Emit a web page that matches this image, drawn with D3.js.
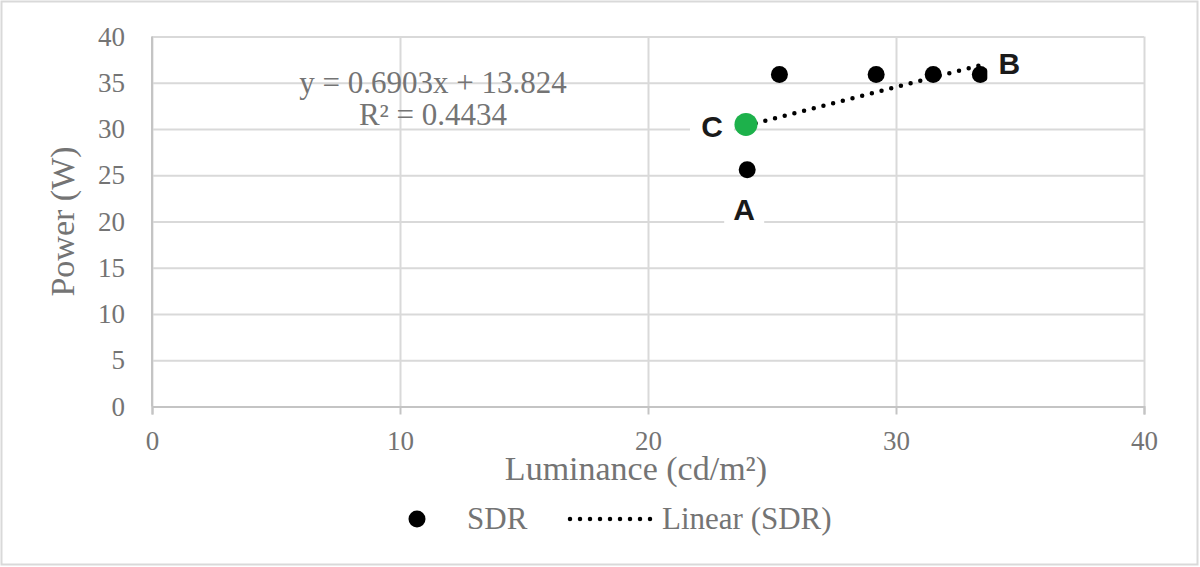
<!DOCTYPE html>
<html>
<head>
<meta charset="utf-8">
<script src="https://cdn.jsdelivr.net/npm/d3@7"></script>
<style>
  body { margin: 0; background: #fff; }
  text { font-family: "Liberation Serif", serif; fill: #747474; }
</style>
</head>
<body>
<svg id="chart" width="1200" height="567"></svg>
<script>
var luminance = [24.0, 25.3, 29.2, 31.5, 33.4, 23.95];
var power     = [25.6, 35.9, 35.9, 35.9, 35.9, 30.5];
var pointTags = ["A", "", "", "", "B", "C"];

var xTicks = [0, 10, 20, 30, 40];
var yTicks = [0, 5, 10, 15, 20, 25, 30, 35, 40];

// trendline as printed on the chart
var trendSlope = 0.6903;
var trendIntercept = 13.824;
var trendText = ["y = 0.6903x + 13.824", "R\u00b2 = 0.4434"];

function draw(){
    var svg = d3.select("#chart");

    // outer border
    svg.append("rect")
        .attr("x", 1.5).attr("y", 1.5)
        .attr("width", 1196).attr("height", 563)
        .attr("fill", "none").attr("stroke", "#d9d9d9").attr("stroke-width", 2);

    var left = 152, top = 36.5, width = 992, height = 370;
    var g = svg.append("g").attr("transform", "translate(" + left + "," + top + ")");

    var scaleX = d3.scaleLinear().domain([0, 40]).range([0, width]);
    var scaleY = d3.scaleLinear().domain([0, 40]).range([height, 0]);

    // gridlines
    var gridY = d3.axisLeft(scaleY).tickValues(yTicks).tickSize(-width).tickFormat("");
    var gGridY = g.append("g").call(gridY);
    gGridY.select(".domain").remove();
    gGridY.selectAll("line").attr("stroke", "#d9d9d9").attr("stroke-width", 2);

    var gridX = d3.axisBottom(scaleX).tickValues(xTicks).tickSize(-height).tickFormat("");
    var gGridX = g.append("g").attr("transform", "translate(0," + height + ")").call(gridX);
    gGridX.select(".domain").remove();
    gGridX.selectAll("line").attr("stroke", "#d9d9d9").attr("stroke-width", 2);

    // left axis line
    g.append("line")
        .attr("x1", 0).attr("x2", 0).attr("y1", 0).attr("y2", height)
        .attr("stroke", "#c4c4c4").attr("stroke-width", 2);

    // x axis with ticks
    var axisX = d3.axisBottom(scaleX).tickValues(xTicks).tickSize(8).tickPadding(16).tickFormat(d3.format("d"));
    var gAxisX = g.append("g").attr("transform", "translate(0," + height + ")").call(axisX);
    gAxisX.select(".domain").attr("stroke", "#c4c4c4").attr("stroke-width", 2);
    gAxisX.selectAll("line").attr("stroke", "#c4c4c4").attr("stroke-width", 2);
    gAxisX.selectAll("text").attr("font-size", 27).attr("font-family", "Liberation Serif").attr("fill", "#747474");

    // y axis labels
    var axisY = d3.axisLeft(scaleY).tickValues(yTicks).tickSize(0).tickPadding(27).tickFormat(d3.format("d"));
    var gAxisY = g.append("g").call(axisY);
    gAxisY.select(".domain").remove();
    gAxisY.selectAll("text").attr("font-size", 27).attr("font-family", "Liberation Serif").attr("fill", "#747474");

    // axis titles
    svg.append("text")
        .attr("x", 636).attr("y", 480)
        .attr("text-anchor", "middle").attr("font-size", 34)
        .text("Luminance (cd/m\u00b2)");
    svg.append("text")
        .attr("transform", "translate(74," + (top + height / 2) + ") rotate(-90)")
        .attr("text-anchor", "middle").attr("font-size", 34)
        .text("Power (W)");

    // equation
    svg.append("text").attr("x", 433).attr("y", 93)
        .attr("text-anchor", "middle").attr("font-size", 31).text(trendText[0]);
    svg.append("text").attr("x", 433).attr("y", 125)
        .attr("text-anchor", "middle").attr("font-size", 31).text(trendText[1]);

    var points = luminance.map(function(d, i){ return {x: d, y: power[i], tag: pointTags[i]}; });

    // black points
    g.selectAll("circle.pt").data(points).enter().append("circle")
        .attr("class", "pt")
        .attr("cx", function(d){ return scaleX(d.x); })
        .attr("cy", function(d){ return scaleY(d.y); })
        .attr("r", 8.5).attr("fill", "#000");

    // linear trendline over data range
    var xExt = d3.extent(luminance);
    var line = d3.line()
        .x(function(d){ return scaleX(d); })
        .y(function(d){ return scaleY(trendSlope * d + trendIntercept); });
    g.append("path").datum(xExt).attr("d", line)
        .attr("fill", "none").attr("stroke", "#000").attr("stroke-width", 4.5)
        .attr("stroke-linecap", "round").attr("stroke-dasharray", "0 10");

    // highlighted point C
    var pc = points.filter(function(d){ return d.tag === "C"; });
    g.selectAll("circle.hl").data(pc).enter().append("circle")
        .attr("class", "hl")
        .attr("cx", function(d){ return scaleX(d.x); })
        .attr("cy", function(d){ return scaleY(d.y); })
        .attr("r", 11.5).attr("fill", "#1db14b");

    // point letters with white boxes
    var offsets = {A: [-3, 39], B: [29, -11], C: [-34, 2]};
    var boxW = {A: 40, B: 44, C: 44};
    var tagged = points.filter(function(d){ return d.tag !== ""; });
    var lab = g.selectAll("g.lab").data(tagged).enter().append("g")
        .attr("class", "lab")
        .attr("transform", function(d){
            var o = offsets[d.tag];
            return "translate(" + (scaleX(d.x) + o[0]) + "," + (scaleY(d.y) + o[1]) + ")";
        });
    lab.append("rect")
        .attr("x", function(d){ return -boxW[d.tag] / 2; }).attr("y", -18)
        .attr("width", function(d){ return boxW[d.tag]; }).attr("height", 36)
        .attr("fill", "#fff");
    lab.append("text")
        .attr("text-anchor", "middle").attr("dy", 11)
        .style("font-family", "'Liberation Sans', Arial, sans-serif")
        .style("font-weight", "bold").style("fill", "#1a1a1a")
        .attr("font-size", 30)
        .text(function(d){ return d.tag; });

    // legend
    var lg = svg.append("g").attr("transform", "translate(0,519)");
    lg.append("circle").attr("cx", 417).attr("cy", 0).attr("r", 8.5).attr("fill", "#000");
    lg.append("text").attr("x", 467).attr("y", 10).attr("font-size", 31).text("SDR");
    lg.append("line").attr("x1", 570).attr("x2", 652).attr("y1", 0).attr("y2", 0)
        .attr("stroke", "#000").attr("stroke-width", 4.5)
        .attr("stroke-linecap", "round").attr("stroke-dasharray", "0 10");
    lg.append("text").attr("x", 662).attr("y", 10).attr("font-size", 31).text("Linear (SDR)");
}
draw();
</script>
</body>
</html>
